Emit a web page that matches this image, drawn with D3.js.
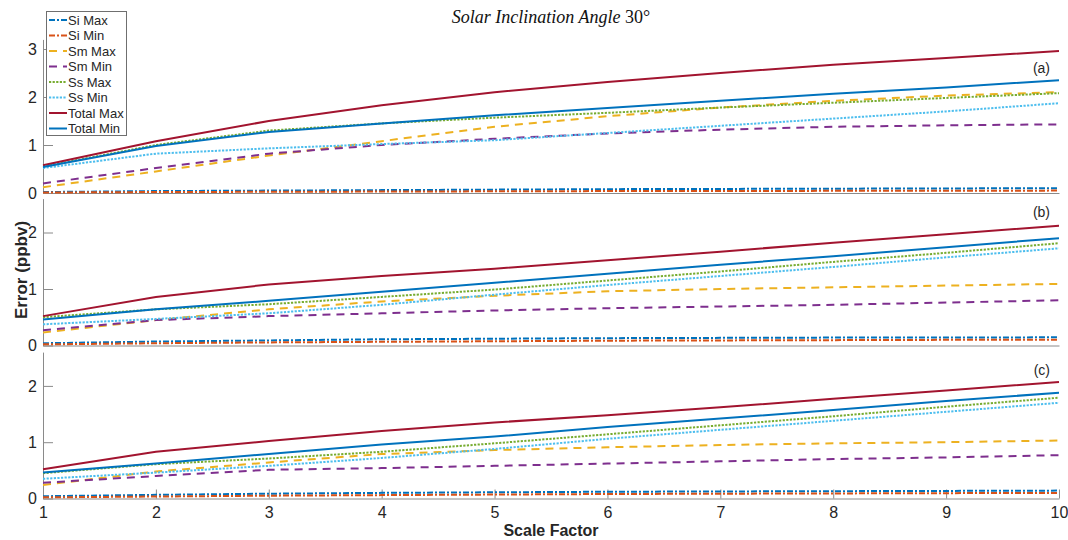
<!DOCTYPE html>
<html><head><meta charset="utf-8">
<script src="https://cdn.jsdelivr.net/npm/d3@7"></script>
<style>body{margin:0;background:#fff}svg{display:block}</style>
</head><body><svg id="c" width="1068" height="540"></svg>
<script>
// ---- data ----
const scaleFactor = [1,2,3,4,5,6,7,8,9,10];
const seriesNames = ["Si Max","Si Min","Sm Max","Sm Min","Ss Max","Ss Min","Total Max","Total Min"];
const panelLabels = ["(a)","(b)","(c)"];
const yTicksA = [0,1,2,3];
const yTicksBC = [0,1,2];

// panel (a)
const aSiMax = [0.02,0.04,0.05,0.06,0.07,0.08,0.085,0.09,0.095,0.1];
const aSiMin = [0.01,0.02,0.025,0.03,0.035,0.04,0.04,0.045,0.045,0.05];
const aSmMax = [0.12,0.45,0.78,1.08,1.38,1.6,1.78,1.92,2.03,2.1];
const aSmMin = [0.2,0.52,0.82,1.0,1.13,1.24,1.32,1.38,1.41,1.43];
const aSsMax = [0.55,1.0,1.3,1.45,1.57,1.67,1.78,1.88,1.98,2.08];
const aSsMin = [0.52,0.82,0.93,1.02,1.1,1.25,1.4,1.55,1.7,1.87];
const aTotMax = [0.58,1.08,1.5,1.83,2.1,2.31,2.5,2.67,2.81,2.96];
const aTotMin = [0.54,0.98,1.27,1.45,1.62,1.77,1.92,2.07,2.2,2.35];
// panel (b)
const bSiMax = [0.04,0.07,0.09,0.11,0.12,0.13,0.135,0.14,0.14,0.145];
const bSiMin = [0.02,0.04,0.055,0.065,0.075,0.085,0.09,0.095,0.1,0.1];
const bSmMax = [0.23,0.45,0.64,0.78,0.88,0.96,1.0,1.03,1.06,1.09];
const bSmMin = [0.27,0.45,0.52,0.57,0.62,0.66,0.69,0.72,0.76,0.8];
const bSsMax = [0.5,0.64,0.73,0.86,0.99,1.15,1.31,1.48,1.64,1.81];
const bSsMin = [0.375,0.47,0.57,0.72,0.9,1.07,1.23,1.39,1.56,1.72];
const bTotMax = [0.52,0.86,1.08,1.23,1.36,1.51,1.66,1.82,1.97,2.12];
const bTotMin = [0.46,0.64,0.79,0.95,1.11,1.27,1.43,1.58,1.74,1.9];
// panel (c)
const cSiMax = [0.04,0.065,0.085,0.1,0.11,0.12,0.125,0.13,0.135,0.14];
const cSiMin = [0.02,0.035,0.05,0.06,0.07,0.08,0.085,0.09,0.095,0.1];
const cSmMax = [0.24,0.48,0.64,0.79,0.86,0.91,0.95,0.98,1.0,1.03];
const cSmMin = [0.28,0.4,0.51,0.54,0.58,0.62,0.66,0.7,0.73,0.77];
const cSsMax = [0.45,0.61,0.71,0.83,0.98,1.14,1.3,1.46,1.63,1.79];
const cSsMin = [0.35,0.46,0.58,0.72,0.88,1.06,1.22,1.38,1.54,1.7];
const cTotMax = [0.52,0.83,1.02,1.2,1.35,1.48,1.62,1.77,1.92,2.07];
const cTotMin = [0.46,0.62,0.79,0.96,1.1,1.27,1.42,1.57,1.73,1.88];

const panelA = [aSiMax,aSiMin,aSmMax,aSmMin,aSsMax,aSsMin,aTotMax,aTotMin];
const panelB = [bSiMax,bSiMin,bSmMax,bSmMin,bSsMax,bSsMin,bTotMax,bTotMin];
const panelC = [cSiMax,cSiMin,cSmMax,cSmMin,cSsMax,cSsMin,cTotMax,cTotMin];

// ---- styles ----
const colors = ["#0072BD","#D95319","#EDB120","#7E2F8E","#77AC30","#4DBEEE","#A2142F","#0072BD"];
const dashes = ["6,2,2,2","6,2,2,2","8,6","8,6","2.2,1.4","2.2,1.4",null,null];

const svg = d3.select("#c");
const x = d3.scaleLinear().domain([1,10]).range([43,1059]);

const panels = [
  {data: panelA, y: d3.scaleLinear().domain([0,3.2]).range([193,193-3.2*48]), ticks: yTicksA, label: panelLabels[0], ly: 73},
  {data: panelB, y: d3.scaleLinear().domain([0,2.6]).range([345.5,345.5-2.6*56.5]), ticks: yTicksBC, label: panelLabels[1], ly: 217},
  {data: panelC, y: d3.scaleLinear().domain([0,2.6]).range([498.5,498.5-2.6*56.3]), ticks: yTicksBC, label: panelLabels[2], ly: 375}
];

const axisColor = "#8a8a8a";
const textColor = "#262626";
const font = "'Liberation Sans', Arial, sans-serif";

panels.forEach((p, pi) => {
  const g = svg.append("g");
  // y axis
  const ya = d3.axisLeft(p.y).tickValues(p.ticks).tickSizeInner(-10).tickSizeOuter(0).tickPadding(6).tickFormat(d3.format("d"));
  const yg = g.append("g").attr("transform", "translate(43,0)").call(ya);
  yg.select(".domain").attr("stroke", axisColor);
  yg.selectAll(".tick line").attr("stroke", axisColor);
  yg.selectAll(".tick text").attr("fill", textColor).style("font-family", font).style("font-size", "16px");
  // x baseline
  const xa = d3.axisBottom(x).tickValues(scaleFactor).tickSizeInner(pi === 2 ? -9 : 0).tickSizeOuter(0).tickPadding(pi === 2 ? 8 : 0);
  const xg = g.append("g").attr("transform", `translate(0,${p.y(0)})`).call(xa);
  xg.select(".domain").attr("stroke", axisColor);
  xg.selectAll(".tick line").attr("stroke", axisColor);
  if (pi === 2) {
    xg.selectAll(".tick text").attr("fill", textColor).style("font-family", font).style("font-size", "16px");
  } else {
    xg.selectAll(".tick text").remove();
  }
  // lines
  const line = d3.line().x((d, i) => x(scaleFactor[i])).y(d => p.y(d));
  p.data.forEach((s, si) => {
    g.append("path").datum(s).attr("d", line)
      .attr("fill", "none").attr("stroke", colors[si]).attr("stroke-width", 2)
      .attr("stroke-dasharray", dashes[si]);
  });
  // panel label
  g.append("text").attr("x", 1050).attr("y", p.ly).attr("text-anchor", "end")
    .attr("fill", textColor).style("font-family", font).style("font-size", "14px").text(p.label);
});

// title
const title = svg.append("text").attr("x", 551).attr("y", 23).attr("text-anchor", "middle")
  .style("font-family", "'Liberation Serif', serif").style("font-size", "18px").attr("fill", "#111");
title.append("tspan").style("font-style", "italic").text("Solar Inclination Angle ");
title.append("tspan").text("30°");

// axis labels
svg.append("text").attr("transform", "translate(27,270) rotate(-90)").attr("text-anchor", "middle")
  .style("font-family", font).style("font-size", "17px").style("font-weight", "bold").attr("fill", textColor).text("Error (ppbv)");
svg.append("text").attr("x", 551).attr("y", 536).attr("text-anchor", "middle")
  .style("font-family", font).style("font-size", "16px").style("font-weight", "bold").attr("fill", textColor).text("Scale Factor");

// legend
const lg = svg.append("g");
lg.append("rect").attr("x", 46.5).attr("y", 11.5).attr("width", 80).attr("height", 124)
  .attr("fill", "#fff").attr("stroke", "#6f6f6f").attr("stroke-width", 1);
seriesNames.forEach((n, i) => {
  const yy = 20 + i * 15.5;
  lg.append("line").attr("x1", 49).attr("x2", 67).attr("y1", yy).attr("y2", yy)
    .attr("stroke", colors[i]).attr("stroke-width", 2).attr("stroke-dasharray", dashes[i]);
  lg.append("text").attr("x", 68).attr("y", yy + 4.5).style("font-family", font).style("font-size", "13px")
    .attr("fill", textColor).text(n);
});
</script></body></html>
